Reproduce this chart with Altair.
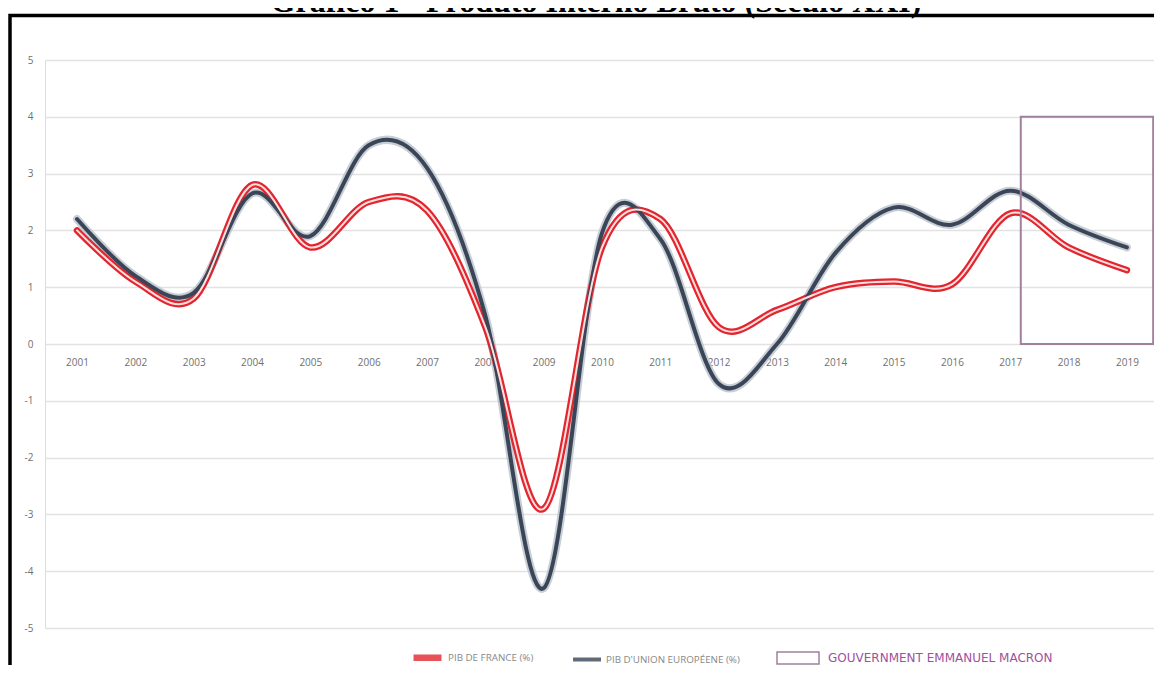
import altair as alt
import pandas as pd

# ---- data ----
years = [2001, 2002, 2003, 2004, 2005, 2006, 2007, 2008, 2009, 2010,
         2011, 2012, 2013, 2014, 2015, 2016, 2017, 2018, 2019]
france = [2.0, 1.1, 0.8, 2.8, 1.7, 2.5, 2.35, 0.3, -2.9, 1.7,
          2.2, 0.3, 0.6, 1.0, 1.1, 1.05, 2.3, 1.7, 1.3]
eu = [2.2, 1.2, 0.9, 2.65, 1.9, 3.5, 3.1, 0.5, -4.3, 1.95,
      1.85, -0.7, 0.0, 1.6, 2.4, 2.1, 2.7, 2.1, 1.7]
y_ticks = [5, 4, 3, 2, 1, 0, -1, -2, -3, -4, -5]

s_fr = "PIB DE FRANCE (%)"
s_eu = "PIB D'UNION EUROPÉENE (%)"
s_box = "GOUVERNMENT EMMANUEL MACRON"
title_text = "Gráfico 1 - Produto Interno Bruto (Século XXI)"

# Macron period box (x from just after 2017 to the end, y 0..4)
box_x = [2017.18]
box_x2 = [2019.45]
box_y = [0]
box_y2 = [4]

df = pd.DataFrame({
    "year": years * 2,
    "value": france + eu,
    "serie": [s_fr] * len(years) + [s_eu] * len(years),
})
box_df = pd.DataFrame({"x": box_x, "x2": box_x2, "y": box_y, "y2": box_y2, "lab": [s_box]})

FONT = "Open Sans"
x_scale = alt.Scale(domain=[2000.451, 2019.464], nice=False, zero=False)
y_scale = alt.Scale(domain=[-5, 5], nice=False, zero=False)

x_enc = alt.X("year:Q", scale=x_scale,
              axis=alt.Axis(values=years, format="d", grid=False, domain=False, ticks=False,
                            offset=-284, labelFontSize=10, labelColor="#707070", labelFont=FONT,
                            labelPadding=13, labelFlush=False, labelOverlap=False, title=None))
y_enc = alt.Y("value:Q", scale=y_scale,
              axis=alt.Axis(values=y_ticks, grid=True, gridColor="#e2e2e2", gridWidth=1.5,
                            domain=False, ticks=False, labelExpr="'' + datum.value",
                            labelFontSize=10, labelColor="#707070", labelFont=FONT,
                            labelPadding=12, title=None))

base = alt.Chart(df)

eu_halo = base.transform_filter(alt.datum.serie == s_eu).mark_line(
    interpolate="cardinal", strokeWidth=8, color="#b9c2cb", opacity=0.8, strokeCap="round"
).encode(x=x_enc, y=y_enc)

lines = base.mark_line(interpolate="cardinal", strokeCap="round").encode(
    x=x_enc, y=y_enc,
    color=alt.Color("serie:N",
                    scale=alt.Scale(domain=[s_fr, s_eu], range=["#e2262f", "#3a4657"]),
                    legend=alt.Legend(orient="none", legendX=365, legendY=580, direction="horizontal",
                                      title=None, symbolType="stroke", symbolSize=784,
                                      symbolStrokeWidth=4, symbolOpacity=0.8,
                                      labelFontSize=9.8, labelColor="#888888", labelFont=FONT,
                                      labelOffset=3, columnPadding=31, padding=0, labelLimit=400)),
    strokeWidth=alt.StrokeWidth("serie:N", scale=alt.Scale(domain=[s_fr, s_eu], range=[6.5, 4]),
                                legend=None),
)

fr_core = base.transform_filter(alt.datum.serie == s_fr).mark_line(
    interpolate="cardinal", strokeWidth=2, color="#ffdede", strokeCap="round"
).encode(x=x_enc, y=y_enc)

box = alt.Chart(box_df).mark_rect(fill="transparent", strokeWidth=2).encode(
    x=alt.X("x:Q", scale=x_scale),
    x2="x2:Q",
    y=alt.Y("y:Q", scale=y_scale),
    y2="y2:Q",
    stroke=alt.Stroke("lab:N", scale=alt.Scale(domain=[s_box], range=["#a0809c"]),
                      legend=alt.Legend(orient="none", legendX=740, legendY=585, title=None,
                                        symbolType="M-1.75,-0.5H1.75V0.5H-1.75Z", symbolSize=576,
                                        symbolStrokeWidth=1.5, symbolFillColor="transparent",
                                        labelFontSize=12, labelColor="#a050a0", labelFont="DejaVu Sans",
                                        labelOffset=17, padding=0, labelLimit=400)),
)

frame = alt.Chart(pd.DataFrame({"a": [0]})).mark_rect(
    fillOpacity=0, stroke="black", strokeWidth=3.5
).encode(x=alt.value(-35), x2=alt.value(1300), y=alt.value(-44.5), y2=alt.value(800))

title = alt.Chart(pd.DataFrame({"t": [title_text]})).mark_text(
    font="Liberation Serif", fontWeight="bold", fontSize=32, color="black",
    align="center", baseline="alphabetic"
).encode(text="t:N", x=alt.value(551), y=alt.value(-48))

chart = alt.layer(eu_halo, lines, fr_core, box, frame, title).properties(
    width=1109, height=568,
    autosize=alt.AutoSizeParams(type="none"),
    padding={"left": 37, "top": 52, "right": 0, "bottom": 37},
).configure_view(stroke=None).configure(background="white")

chart.save("out.html", embed_options={"renderer": "svg", "actions": False})
